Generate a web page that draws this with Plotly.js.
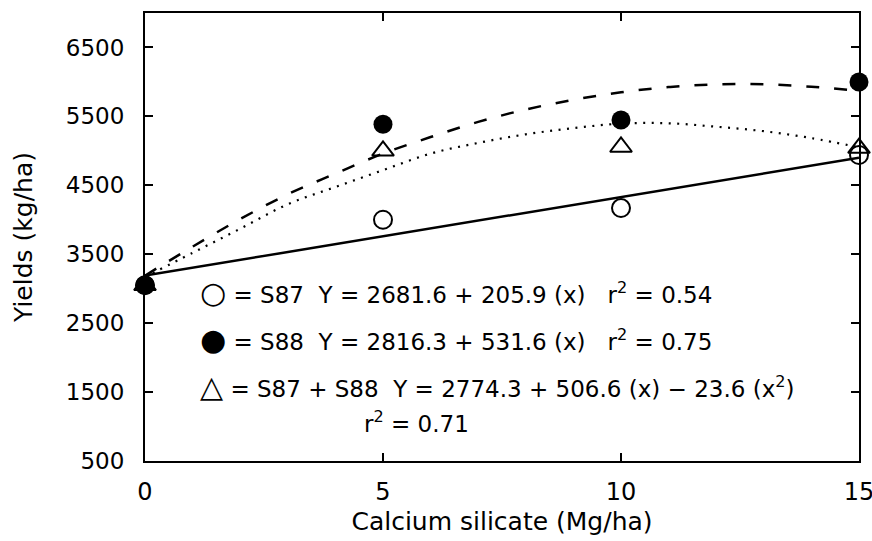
<!DOCTYPE html>
<html>
<head>
<meta charset="utf-8">
<script src="https://cdn.plot.ly/plotly-3.0.1.min.js"></script>
<style>html,body{margin:0;padding:0;background:#fff;}#chart{width:872px;height:541px;}</style>
</head>
<body>
<div id="chart"></div>
<script>
// Observed yields (kg/ha) at calcium silicate rates (Mg/ha)
const rates = [0, 5, 10, 15];
const s87 = [3050, 4000, 4170, 4940];
const s88 = [3050, 5385, 5448, 6000];
const s87s88 = [3050, 5000, 5056, 5040];

// Fitted curves
const fitS87X = [0, 15];
const fitS87Y = [3190, 4900];
const fitS88X = [0, 1, 2, 3, 4, 5, 6, 7, 8, 9, 10, 11, 12, 13, 14, 15];
const fitS88Y = [3190, 3610, 4010, 4370, 4670, 4960, 5200, 5420, 5600, 5740, 5850, 5925, 5965, 5965, 5930, 5870];
const fitBothX = [0, 1, 2, 3, 4, 5, 6, 7, 8, 9, 10, 11, 12, 13, 14, 15];
const fitBothY = [3170, 3520, 3870, 4225, 4475, 4720, 4960, 5115, 5240, 5330, 5395, 5400, 5350, 5285, 5185, 5050];

const xTicks = [0, 5, 10, 15];
const yTicks = [500, 1500, 2500, 3500, 4500, 5500, 6500];

const G = s => '<span style="font-size:30px">' + s + '</span>';
const legendLines = [
  G("\u25CB") + " = S87\u00a0\u00a0Y = 2681.6 + 205.9 (x)\u00a0\u00a0\u00a0r<sup>2</sup> = 0.54",
  G("\u25CF") + " = S88\u00a0\u00a0Y = 2816.3 + 531.6 (x)\u00a0\u00a0\u00a0r<sup>2</sup> = 0.75",
  G("\u25B3") + " = S87 + S88\u00a0\u00a0Y = 2774.3 + 506.6 (x) \u2212 23.6 (x<sup>2</sup>)",
  "r<sup>2</sup> = 0.71"
];

const FONT = "DejaVu Sans, Arial, sans-serif";

const traces = [
  {x: fitS87X, y: fitS87Y, mode: 'lines', line: {color: '#000', width: 2.5}, hoverinfo: 'skip'},
  {x: fitS88X, y: fitS88Y, mode: 'lines', line: {color: '#000', width: 2.5, dash: '13px,15px', shape: 'spline'}, hoverinfo: 'skip'},
  {x: fitBothX, y: fitBothY, mode: 'lines', line: {color: '#000', width: 2.2, dash: '2px,6.5px', shape: 'spline'}, hoverinfo: 'skip'},
  {x: rates, y: s87, mode: 'markers', cliponaxis: false,
   marker: {symbol: 'circle-open', size: 18, color: '#000', line: {width: 2, color: '#000'}}},
  {x: rates, y: s87s88, mode: 'markers', cliponaxis: false,
   marker: {symbol: 'triangle-up-open', size: 19, color: '#000', line: {width: 2, color: '#000'}}},
  {x: rates, y: s88, mode: 'markers', cliponaxis: false,
   marker: {symbol: 'circle', size: 19, color: '#000'}}
];

const ann = [
  {x: 0.074, y: 0.377, text: legendLines[0]},
  {x: 0.074, y: 0.272, text: legendLines[1]},
  {x: 0.074, y: 0.167, text: legendLines[2]},
  {x: 0.304, y: 0.087, text: legendLines[3]}
].map(a => Object.assign({xref: 'paper', yref: 'paper', xanchor: 'left', yanchor: 'middle', showarrow: false,
  font: {family: FONT, size: 23, color: '#000'}}, a));

const layout = {
  width: 872, height: 541,
  margin: {l: 145, r: 13, t: 13, b: 80},
  paper_bgcolor: '#fff', plot_bgcolor: '#fff',
  showlegend: false,
  font: {family: FONT, color: '#000'},
  xaxis: {
    range: [0, 15], tickvals: xTicks, ticktext: xTicks.map(String),
    showgrid: false, zeroline: false, showline: true, linecolor: '#000', linewidth: 2,
    mirror: 'ticks', ticks: 'inside', ticklen: 8, tickwidth: 2, tickcolor: '#000',
    tickfont: {family: FONT, size: 24}, ticklabelstandoff: 8, ticklabeloverflow: 'allow',
    title: {text: 'Calcium silicate (Mg/ha)', font: {family: FONT, size: 25}, standoff: 8}
  },
  yaxis: {
    range: [500, 7000], tickvals: yTicks, ticktext: yTicks.map(String),
    showgrid: false, zeroline: false, showline: true, linecolor: '#000', linewidth: 2,
    mirror: 'ticks', ticks: 'inside', ticklen: 8, tickwidth: 2, tickcolor: '#000',
    tickfont: {family: FONT, size: 23}, ticklabelstandoff: 14,
    title: {text: 'Yields (kg/ha)', font: {family: FONT, size: 25}, standoff: 26}
  },
  annotations: ann
};

Plotly.newPlot('chart', traces, layout, {displayModeBar: false, staticPlot: true});
</script>
</body>
</html>
